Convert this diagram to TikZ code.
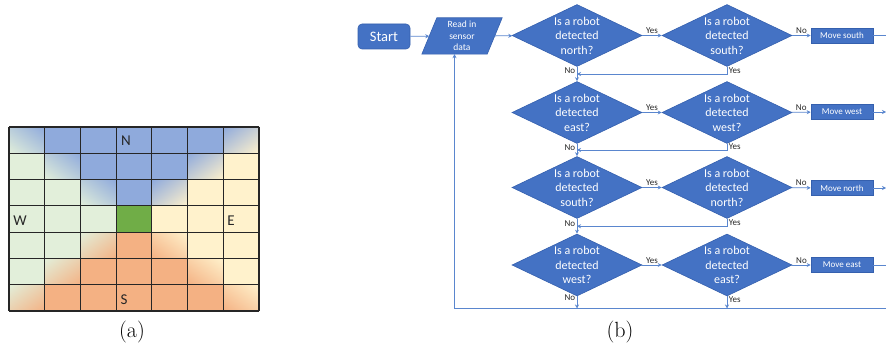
\documentclass[tikz,border=0pt]{standalone}
\usepackage{fontspec}
\newfontfamily\cali{Carlito}
\usetikzlibrary{shapes.geometric,arrows.meta,calc,shadings}
\definecolor{cblue}{HTML}{8FAADC}
\definecolor{cgreen}{HTML}{E2EFDA}
\definecolor{cyellow}{HTML}{FFF2CC}
\definecolor{corange}{HTML}{F4B183}
\definecolor{cdgreen}{HTML}{70AD47}
\definecolor{fblue}{HTML}{4472C4}
\definecolor{fborder}{HTML}{3560AE}
\definecolor{lblue}{HTML}{5A86CE}
\begin{document}
\begin{tikzpicture}[x=1pt,y=-1pt,
  cellB/.style={fill=cblue}, cellG/.style={fill=cgreen}, cellY/.style={fill=cyellow},
  cellO/.style={fill=corange}, cellD/.style={fill=cdgreen},
  cellBG/.style={shade, upper right=cblue, lower left=cgreen, upper left=cblue!50!cgreen, lower right=cblue!50!cgreen},
  cellBY/.style={shade, upper left=cblue, lower right=cyellow, upper right=cblue!50!cyellow, lower left=cblue!50!cyellow},
  cellGO/.style={shade, upper left=cgreen, lower right=corange, upper right=cgreen!50!corange, lower left=cgreen!50!corange},
  cellYO/.style={shade, upper right=cyellow, lower left=corange, upper left=cyellow!50!corange, lower right=cyellow!50!corange},
  gridln/.style={draw=black!85, line width=1.2pt},
  gl/.style={font=\cali\fontsize{15}{17}\selectfont, text=black!85, inner sep=0pt},
  captext/.style={font=\fontsize{22}{26}\selectfont, inner sep=0pt},
  startbox/.style={rectangle, rounded corners=4pt, fill=fblue, draw=fborder, line width=0.6pt,
     minimum width=52pt, minimum height=25pt, text=white, font=\cali\fontsize{14.5}{16}\selectfont},
  readbox/.style={rectangle, minimum width=65pt, minimum height=36pt, inner sep=0pt, text=white,
     align=center, font=\cali\fontsize{9.5}{11.7}\selectfont},
  dia/.style={diamond, fill=fblue, draw=fborder, line width=0.6pt, minimum width=130pt, minimum height=62pt, inner sep=0pt},
  diatext/.style={text=white, align=center, inner sep=0pt, font=\cali\fontsize{12}{14.5}\selectfont},
  movebox/.style={rectangle, fill=fblue, draw=fborder, line width=0.6pt, minimum width=62pt, minimum height=15pt,
     inner sep=0pt, text=white, font=\cali\fontsize{9}{10}\selectfont},
  conn/.style={draw=lblue, line width=0.8pt, -{Stealth[length=4pt,width=4pt]}},
  plain/.style={draw=lblue, line width=0.8pt},
  lab/.style={font=\cali\fontsize{9}{10}\selectfont, text=black!85, inner sep=1.5pt}
]
\useasboundingbox (0,0) rectangle (886,350);
% ---------- (a) grid ----------
\foreach \c/\r/\s in {
 0/0/BG,1/0/B,2/0/B,3/0/B,4/0/B,5/0/B,6/0/BY,
 0/1/G,1/1/BG,2/1/B,3/1/B,4/1/B,5/1/BY,6/1/Y,
 0/2/G,1/2/G,2/2/BG,3/2/B,4/2/BY,5/2/Y,6/2/Y,
 0/3/G,1/3/G,2/3/G,3/3/D,4/3/Y,5/3/Y,6/3/Y,
 0/4/G,1/4/G,2/4/GO,3/4/O,4/4/YO,5/4/Y,6/4/Y,
 0/5/G,1/5/GO,2/5/O,3/5/O,4/5/O,5/5/YO,6/5/Y,
 0/6/GO,1/6/O,2/6/O,3/6/O,4/6/O,5/6/O,6/6/YO}
 {\path[cell\s] ({9+\c*35.714},{127+\r*26.286}) rectangle ++(35.714,26.286);}
\foreach \i in {0,...,7} {
  \draw[gridln] ({9+\i*35.714},127) -- ({9+\i*35.714},311);
  \draw[gridln] (9,{127+\i*26.286}) -- (259,{127+\i*26.286});
}
\node[gl] (lN) at (126,141) {N};
\node[gl] (lW) at (20,221) {W};
\node[gl] (lE) at (231,221) {E};
\node[gl] (lS) at (124,300) {S};
\node[captext] (capa) at (132,332) {(a)};
% ---------- (b) flowchart ----------
\node[startbox] (start) at (384,36.5) {Start};
\node[readbox] (read) at (462,36) {};
\path[fill=fblue, draw=fborder, line width=0.6pt]
  ([xshift=-7.5pt]read.south west) -- ([xshift=-7.5pt]read.south east)
  -- ([xshift=7.5pt]read.north east) -- ([xshift=7.5pt]read.north west) -- cycle;
\node[readbox] (readt) at (read) {Read in\\sensor\\data};

\foreach \n/\x/\y/\t in {dN/577/35.5/north, dS/727/35.5/south,
                         dE/577/112.5/east, dW/727/112.5/west,
                         dS2/577/187.5/south, dN2/727/187.5/north,
                         dW2/577/265/west, dE2/727/265/east} {
  \node[dia] (\n) at (\x,\y) {};
  \node[diatext] (\n t) at (\x,\y) {Is a robot\\detected\\\t?};
}
\node[movebox] (m1) at (842,35.5) {Move south};
\node[movebox] (m2) at (842,112) {Move west};
\node[movebox] (m3) at (842,188) {Move north};
\node[movebox] (m4) at (842,265) {Move east};

\coordinate (e1) at (886,35.5);
\coordinate (e2) at (886,112);
\coordinate (e3) at (886,188);
\coordinate (e4) at (886,265);
\coordinate (eb) at (886,308.5);
\coordinate (bl) at (454.5,308.5);

\draw[conn] (start) -- (read);
\draw[conn] (read) -- (dN);

% row 1
\draw[conn] (dN) -- node[lab,above]{Yes} (dS);
\draw[conn] (dS) -- node[lab,above]{No} (m1);
\draw[plain] (m1) -- (e1);
\draw[conn] (dN) -- node[lab,left,pos=0.3]{No} (dE);
\draw[conn] (dS.south) |- node[lab,right,pos=0.25]{Yes} ($(dN.south)!0.5!(dE.north)$);
% row 2
\draw[conn] (dE) -- node[lab,above]{Yes} (dW);
\draw[conn] (dW) -- node[lab,above]{No} (m2);
\draw[conn] (m2) -- (e2);
\draw[conn] (dE) -- node[lab,left,pos=0.3]{No} (dS2);
\draw[conn] (dW.south) |- node[lab,right,pos=0.25]{Yes} ($(dE.south)!0.5!(dS2.north)$);
% row 3
\draw[conn] (dS2) -- node[lab,above]{Yes} (dN2);
\draw[conn] (dN2) -- node[lab,above]{No} (m3);
\draw[conn] (m3) -- (e3);
\draw[conn] (dS2) -- node[lab,left,pos=0.3]{No} (dW2);
\draw[conn] (dN2.south) |- node[lab,right,pos=0.25]{Yes} ($(dS2.south)!0.5!(dW2.north)$);
% row 4
\draw[conn] (dW2) -- node[lab,above]{Yes} (dE2);
\draw[conn] (dE2) -- node[lab,above]{No} (m4);
\draw[plain] (m4) -- (e4);
\draw[conn] (dW2.south) -- node[lab,left,pos=0.15]{No} (dW2.south |- eb);
\draw[conn] (dE2.south) -- node[lab,right,pos=0.3]{Yes} (dE2.south |- eb);
% loop back
\draw[conn] (eb) -- (bl) -- ([xshift=-7.5pt]read.south);

\node[captext] (capb) at (620,332) {(b)};
\end{tikzpicture}
\end{document}
